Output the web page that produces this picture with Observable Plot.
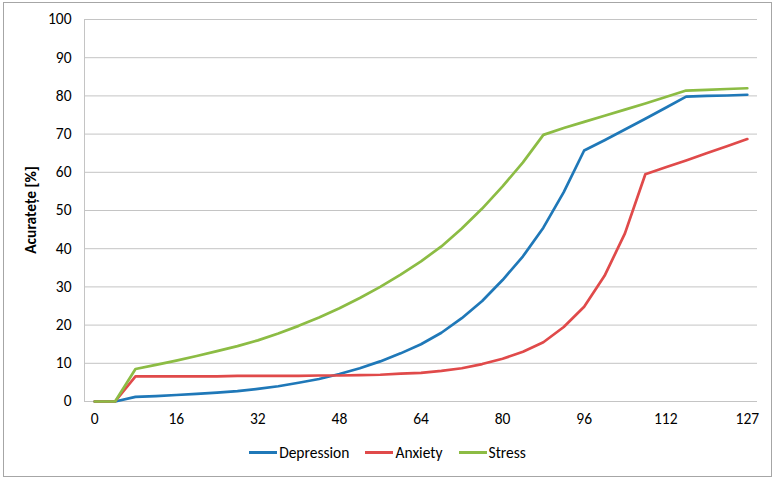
<!DOCTYPE html>
<html>
<head>
<meta charset="utf-8">
<script src="https://cdn.jsdelivr.net/npm/d3@7"></script>
<script src="https://cdn.jsdelivr.net/npm/@observablehq/plot@0.6"></script>
<style>
  html, body { margin: 0; padding: 0; background: #fff; }
  #box { position: absolute; left: 3px; top: 2px; width: 767px; height: 473px; border: 1px solid #a6a6a6; }
  #legend { position: absolute; left: 0; width: 767px; top: 440px; display: flex; justify-content: center; align-items: center;
            font-family: Carlito, Calibri, Lato, "Liberation Sans", sans-serif; font-size: 15.5px; color: #000; }
  .item { display: flex; align-items: center; margin: 0 8px; }
  .sw { width: 28px; height: 3px; margin-right: 2px; }
  #ytitle { position: absolute; left: 26px; top: 207px; transform: translate(-50%, -50%) rotate(-90deg); white-space: nowrap;
            font-family: Carlito, Calibri, Lato, "Liberation Sans", sans-serif; font-size: 15.5px; font-weight: bold; color: #000; }
</style>
</head>
<body>
<div id="box"><div id="chart"></div><div id="ytitle"></div><div id="legend"></div></div>
<script>
const xCats = [0,4,8,12,16,20,24,28,32,36,40,44,48,52,56,60,64,68,72,76,80,84,88,92,96,100,104,108,112,116,120,124,127];
const xTickLabels = [0,16,32,48,64,80,96,112,127];
const depression = [0,0,1.2,1.4,1.7,2.0,2.3,2.7,3.3,4.0,4.9,5.9,7.2,8.7,10.5,12.6,15.0,18.0,21.8,26.3,31.8,38.0,45.5,54.8,65.7,68.4,71.2,74.0,76.9,79.8,80.0,80.1,80.3];
const anxiety = [0,0,6.6,6.6,6.6,6.6,6.6,6.7,6.7,6.7,6.7,6.8,6.8,6.9,7.0,7.3,7.5,8.0,8.7,9.8,11.2,13.0,15.5,19.5,24.8,32.9,44.0,59.5,61.3,63.1,65.0,66.8,68.7];
const stress = [0,0,8.5,9.6,10.7,11.9,13.2,14.5,16.0,17.8,19.8,22.0,24.4,27.1,30.0,33.2,36.7,40.6,45.3,50.5,56.3,62.6,69.8,71.6,73.2,74.8,76.4,78.0,79.7,81.4,81.6,81.8,82.0];
const seriesNames = ["Depression","Anxiety","Stress"];
const seriesColors = ["#1f78b8","#e04a4a","#8cbc44"];
const yTicks = [0,10,20,30,40,50,60,70,80,90,100];
const yTitle = "Acuratețe [%]";

const seriesValues = [depression, anxiety, stress];
const rows = [];
seriesNames.forEach((name, s) => xCats.forEach((x, i) => rows.push({x, y: seriesValues[s][i], series: name})));

const font = "Carlito, Calibri, Lato, 'Liberation Sans', sans-serif";
const plot = Plot.plot({
  width: 760, height: 430,
  marginLeft: 80, marginRight: 7, marginTop: 16, marginBottom: 32,
  style: {fontFamily: font, fontSize: "15.5px", color: "#000", background: "#fff"},
  x: {type: "point", domain: xCats, padding: 0.5, round: false, label: null},
  y: {domain: [0, 100], label: null},
  color: {domain: seriesNames, range: seriesColors},
  marks: [
    Plot.ruleY(yTicks, {stroke: "#c4c4c4", strokeWidth: 1}),
    Plot.frame({anchor: "left", stroke: "#c4c4c4"}),
    Plot.axisY({ticks: yTicks, tickSize: 0, tickPadding: 13, label: null}),
    Plot.axisX({ticks: xTickLabels, tickSize: 0, tickPadding: 11, label: null}),
    Plot.lineY(rows, {x: "x", y: "y", z: "series", stroke: "series", strokeWidth: 2.7, curve: "linear"})
  ]
});
document.getElementById("chart").appendChild(plot);
document.getElementById("ytitle").textContent = yTitle;

const legend = document.getElementById("legend");
seriesNames.forEach((name, i) => {
  const item = document.createElement("div");
  item.className = "item";
  const sw = document.createElement("div");
  sw.className = "sw";
  sw.style.background = seriesColors[i];
  const t = document.createElement("span");
  t.textContent = name;
  item.appendChild(sw); item.appendChild(t);
  legend.appendChild(item);
});
</script>
</body>
</html>
